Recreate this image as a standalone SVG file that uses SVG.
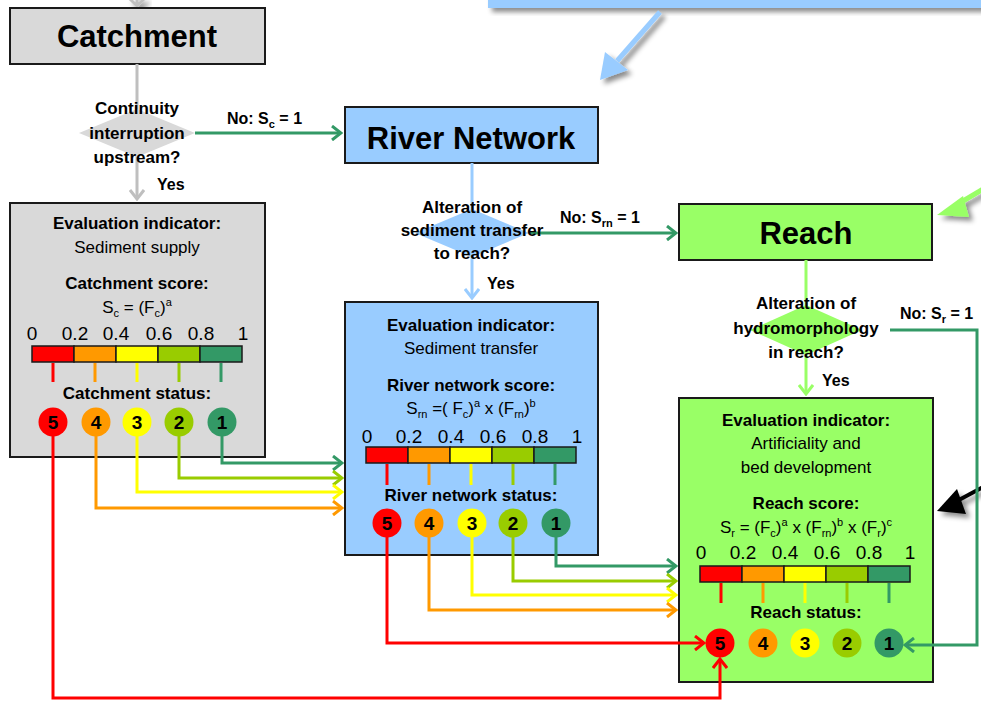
<svg xmlns="http://www.w3.org/2000/svg" width="981" height="701" viewBox="0 0 981 701">
<style>
text{font-family:"Liberation Sans",Arial,sans-serif;fill:#000}
.t{font-size:31px;font-weight:bold;text-anchor:middle}
.b{font-size:17px;font-weight:bold;text-anchor:middle}
.r{font-size:17px;text-anchor:middle}
.sc{font-size:19px;text-anchor:middle}
.s{font-size:16px;font-weight:bold}
.n{font-size:19px;font-weight:bold;text-anchor:middle}
.box{stroke:#1a1a1a;stroke-width:2}
.gray{fill:#d9d9d9}.blue{fill:#99ccff}.lg{fill:#99ff66}
.c{fill:none;stroke-width:3}
.tk{stroke-width:3}
.bar{stroke:#1a1a1a;stroke-width:1.5}
</style>
<defs>
<filter id="sh" x="-20%" y="-20%" width="160%" height="160%"><feDropShadow dx="4" dy="4" stdDeviation="2.5" flood-color="#000" flood-opacity="0.45"/></filter>
<marker id="mg" viewBox="0 0 12 16" refX="10" refY="8" markerWidth="12" markerHeight="16" markerUnits="userSpaceOnUse" orient="auto"><path d="M1,1 L10,8 L1,15" fill="none" stroke="#bfbfbf" stroke-width="3"/></marker>
<marker id="mb" viewBox="0 0 12 16" refX="10" refY="8" markerWidth="12" markerHeight="16" markerUnits="userSpaceOnUse" orient="auto"><path d="M1,1 L10,8 L1,15" fill="none" stroke="#99ccff" stroke-width="3"/></marker>
<marker id="ml" viewBox="0 0 12 16" refX="10" refY="8" markerWidth="12" markerHeight="16" markerUnits="userSpaceOnUse" orient="auto"><path d="M1,1 L10,8 L1,15" fill="none" stroke="#99ff66" stroke-width="3"/></marker>
<marker id="md" viewBox="0 0 12 16" refX="10" refY="8" markerWidth="12" markerHeight="16" markerUnits="userSpaceOnUse" orient="auto"><path d="M1,1 L10,8 L1,15" fill="none" stroke="#339966" stroke-width="3"/></marker>
<marker id="my" viewBox="0 0 12 16" refX="10" refY="8" markerWidth="12" markerHeight="16" markerUnits="userSpaceOnUse" orient="auto"><path d="M1,1 L10,8 L1,15" fill="none" stroke="#99cc00" stroke-width="3"/></marker>
<marker id="mw" viewBox="0 0 12 16" refX="10" refY="8" markerWidth="12" markerHeight="16" markerUnits="userSpaceOnUse" orient="auto"><path d="M1,1 L10,8 L1,15" fill="none" stroke="#ffff00" stroke-width="3"/></marker>
<marker id="mo" viewBox="0 0 12 16" refX="10" refY="8" markerWidth="12" markerHeight="16" markerUnits="userSpaceOnUse" orient="auto"><path d="M1,1 L10,8 L1,15" fill="none" stroke="#ff9900" stroke-width="3"/></marker>
<marker id="mr" viewBox="0 0 12 16" refX="10" refY="8" markerWidth="12" markerHeight="16" markerUnits="userSpaceOnUse" orient="auto"><path d="M1,1 L10,8 L1,15" fill="none" stroke="#ff0000" stroke-width="3"/></marker>
</defs>
<rect width="981" height="701" fill="#fff"/>

<!-- off-page context: top blue box and pointer arrows -->
<g id="context">
<rect x="488" y="-10" width="500" height="18" class="blue" filter="url(#sh)"/>
<g filter="url(#sh)">
<line x1="660" y1="12" x2="617" y2="61" stroke="#99ccff" stroke-width="5"/>
<polygon points="600,80 605,52 628,70" fill="#99ccff"/>
</g>
<g filter="url(#sh)">
<line x1="985" y1="188" x2="958" y2="204" stroke="#99ff66" stroke-width="5"/>
<polygon points="937,215 963,196 969,217" fill="#99ff66"/>
</g>
<g filter="url(#sh)">
<line x1="985" y1="486" x2="957" y2="501" stroke="#000" stroke-width="4"/>
<polygon points="937,511 957,489 966,514" fill="#000"/>
</g>
<g filter="url(#sh)">
<path d="M137,-6 V5 M129,-2 L137,6 L145,-2" fill="none" stroke="#bfbfbf" stroke-width="3"/>
</g>
</g>

<!-- title nodes -->
<g id="catchment">
<rect x="10" y="8" width="255" height="56" class="box gray"/>
<text x="137" y="47" class="t">Catchment</text>
</g>
<g id="river-network">
<rect x="345" y="107" width="253" height="56" class="box blue"/>
<text x="471" y="149" class="t">River Network</text>
</g>
<g id="reach">
<rect x="679" y="204" width="253" height="56" class="box lg"/>
<text x="806" y="244" class="t">Reach</text>
</g>

<!-- evaluation nodes -->
<g id="catchment-eval">
<rect x="10" y="203" width="255" height="254" class="box gray"/>
<text x="137" y="229" class="b">Evaluation indicator:</text>
<text x="137" y="253" class="r">Sediment supply</text>
<text x="137" y="289" class="b">Catchment score:</text>
<text x="137" y="313" class="r">S<tspan font-size="11" dy="4">c</tspan><tspan dy="-4"> = (F</tspan><tspan font-size="11" dy="4">c</tspan><tspan dy="-4">)</tspan><tspan font-size="11" dy="-7">a</tspan></text>
<g class="sc"><text x="32" y="340">0</text><text x="75" y="340">0.2</text><text x="116" y="340">0.4</text><text x="159" y="340">0.6</text><text x="201" y="340">0.8</text><text x="243" y="340">1</text></g>
<rect x="32" y="346" width="42" height="16" fill="#ff0000" class="bar"/>
<rect x="74" y="346" width="42" height="16" fill="#ff9900" class="bar"/>
<rect x="116" y="346" width="42" height="16" fill="#ffff00" class="bar"/>
<rect x="158" y="346" width="42" height="16" fill="#99cc00" class="bar"/>
<rect x="200" y="346" width="42" height="16" fill="#339966" class="bar"/>
<line x1="53" y1="363" x2="53" y2="382" stroke="#ff0000" class="tk"/>
<line x1="95" y1="363" x2="95" y2="382" stroke="#ff9900" class="tk"/>
<line x1="137" y1="363" x2="137" y2="382" stroke="#ffff00" class="tk"/>
<line x1="179" y1="363" x2="179" y2="382" stroke="#99cc00" class="tk"/>
<line x1="221" y1="363" x2="221" y2="382" stroke="#339966" class="tk"/>
<text x="137" y="399" class="b">Catchment status:</text>
<circle cx="53" cy="422" r="14.5" fill="#ff0000"/><text x="53" y="429" class="n">5</text>
<circle cx="96" cy="422" r="14.5" fill="#ff9900"/><text x="96" y="429" class="n">4</text>
<circle cx="137" cy="422" r="14.5" fill="#ffff00"/><text x="137" y="429" class="n">3</text>
<circle cx="179" cy="422" r="14.5" fill="#99cc00"/><text x="179" y="429" class="n">2</text>
<circle cx="222" cy="422" r="14.5" fill="#339966"/><text x="222" y="429" class="n">1</text>
</g>

<g id="river-network-eval">
<rect x="345" y="302" width="253" height="253" class="box blue"/>
<text x="471" y="331" class="b">Evaluation indicator:</text>
<text x="471" y="354" class="r">Sediment transfer</text>
<text x="471" y="391" class="b">River network score:</text>
<text x="471" y="414" class="r">S<tspan font-size="11" dy="4">rn</tspan><tspan dy="-4"> =( F</tspan><tspan font-size="11" dy="4">c</tspan><tspan dy="-4">)</tspan><tspan font-size="11" dy="-7">a</tspan><tspan dy="7"> x (F</tspan><tspan font-size="11" dy="4">rn</tspan><tspan dy="-4">)</tspan><tspan font-size="11" dy="-7">b</tspan></text>
<g class="sc"><text x="367" y="443">0</text><text x="409" y="443">0.2</text><text x="451" y="443">0.4</text><text x="493" y="443">0.6</text><text x="535" y="443">0.8</text><text x="577" y="443">1</text></g>
<rect x="366" y="447" width="42" height="16" fill="#ff0000" class="bar"/>
<rect x="408" y="447" width="42" height="16" fill="#ff9900" class="bar"/>
<rect x="450" y="447" width="42" height="16" fill="#ffff00" class="bar"/>
<rect x="492" y="447" width="42" height="16" fill="#99cc00" class="bar"/>
<rect x="534" y="447" width="42" height="16" fill="#339966" class="bar"/>
<line x1="387" y1="464" x2="387" y2="485" stroke="#ff0000" class="tk"/>
<line x1="429" y1="464" x2="429" y2="485" stroke="#ff9900" class="tk"/>
<line x1="471" y1="464" x2="471" y2="485" stroke="#ffff00" class="tk"/>
<line x1="513" y1="464" x2="513" y2="485" stroke="#99cc00" class="tk"/>
<line x1="555" y1="464" x2="555" y2="485" stroke="#339966" class="tk"/>
<text x="471" y="501" class="b">River network status:</text>
<circle cx="387" cy="523" r="14.5" fill="#ff0000"/><text x="387" y="530" class="n">5</text>
<circle cx="429" cy="523" r="14.5" fill="#ff9900"/><text x="429" y="530" class="n">4</text>
<circle cx="472" cy="523" r="14.5" fill="#ffff00"/><text x="472" y="530" class="n">3</text>
<circle cx="513" cy="523" r="14.5" fill="#99cc00"/><text x="513" y="530" class="n">2</text>
<circle cx="556" cy="523" r="14.5" fill="#339966"/><text x="556" y="530" class="n">1</text>
</g>

<g id="reach-eval">
<rect x="679" y="398" width="254" height="284" class="box lg"/>
<text x="806" y="426" class="b">Evaluation indicator:</text>
<text x="806" y="449" class="r">Artificiality and</text>
<text x="806" y="473" class="r">bed development</text>
<text x="806" y="509" class="b">Reach score:</text>
<text x="806" y="533" class="r">S<tspan font-size="11" dy="4">r</tspan><tspan dy="-4"> = (F</tspan><tspan font-size="11" dy="4">c</tspan><tspan dy="-4">)</tspan><tspan font-size="11" dy="-7">a</tspan><tspan dy="7"> x (F</tspan><tspan font-size="11" dy="4">rn</tspan><tspan dy="-4">)</tspan><tspan font-size="11" dy="-7">b</tspan><tspan dy="7"> x (F</tspan><tspan font-size="11" dy="4">r</tspan><tspan dy="-4">)</tspan><tspan font-size="11" dy="-7">c</tspan></text>
<g class="sc"><text x="701" y="559">0</text><text x="743" y="559">0.2</text><text x="785" y="559">0.4</text><text x="827" y="559">0.6</text><text x="869" y="559">0.8</text><text x="910" y="559">1</text></g>
<rect x="700" y="566" width="42" height="16" fill="#ff0000" class="bar"/>
<rect x="742" y="566" width="42" height="16" fill="#ff9900" class="bar"/>
<rect x="784" y="566" width="42" height="16" fill="#ffff00" class="bar"/>
<rect x="826" y="566" width="42" height="16" fill="#99cc00" class="bar"/>
<rect x="868" y="566" width="42" height="16" fill="#339966" class="bar"/>
<line x1="721" y1="583" x2="721" y2="603" stroke="#ff0000" class="tk"/>
<line x1="763" y1="583" x2="763" y2="603" stroke="#ff9900" class="tk"/>
<line x1="805" y1="583" x2="805" y2="603" stroke="#ffff00" class="tk"/>
<line x1="847" y1="583" x2="847" y2="603" stroke="#99cc00" class="tk"/>
<line x1="889" y1="583" x2="889" y2="603" stroke="#339966" class="tk"/>
<text x="806" y="618" class="b">Reach status:</text>
<circle cx="720" cy="643" r="14.5" fill="#ff0000"/><text x="720" y="650" class="n">5</text>
<circle cx="763" cy="643" r="14.5" fill="#ff9900"/><text x="763" y="650" class="n">4</text>
<circle cx="805" cy="643" r="14.5" fill="#ffff00"/><text x="805" y="650" class="n">3</text>
<circle cx="847" cy="643" r="14.5" fill="#99cc00"/><text x="847" y="650" class="n">2</text>
<circle cx="889" cy="643" r="14.5" fill="#339966"/><text x="889" y="650" class="n">1</text>
</g>

<!-- connectors -->
<g id="connectors">
<path d="M137,64 V199" class="c" stroke="#bfbfbf" marker-end="url(#mg)"/>
<path d="M472,163 V298" class="c" stroke="#99ccff" marker-end="url(#mb)"/>
<path d="M806,260 V394" class="c" stroke="#99ff66" marker-end="url(#ml)"/>
<path d="M195,133 H341" class="c" stroke="#339966" marker-end="url(#md)"/>
<path d="M530,233 H676" class="c" stroke="#339966" marker-end="url(#md)"/>
<path d="M890,330 H977 V645 H905" class="c" stroke="#339966" marker-end="url(#md)"/>
<path d="M222,436 V463 H342" class="c" stroke="#339966" marker-end="url(#md)"/>
<path d="M179,436 V478 H342" class="c" stroke="#99cc00" marker-end="url(#my)"/>
<path d="M137,436 V492 H342" class="c" stroke="#ffff00" marker-end="url(#mw)"/>
<path d="M96,436 V508 H342" class="c" stroke="#ff9900" marker-end="url(#mo)"/>
<path d="M53,436 V698 H720 V659" class="c" stroke="#ff0000" marker-end="url(#mr)"/>
<path d="M556,537 V566 H676" class="c" stroke="#339966" marker-end="url(#md)"/>
<path d="M513,537 V581 H676" class="c" stroke="#99cc00" marker-end="url(#my)"/>
<path d="M472,537 V595 H676" class="c" stroke="#ffff00" marker-end="url(#mw)"/>
<path d="M429,537 V610 H676" class="c" stroke="#ff9900" marker-end="url(#mo)"/>
<path d="M387,537 V643 H704" class="c" stroke="#ff0000" marker-end="url(#mr)"/>
</g>

<!-- decisions -->
<g id="decision-catchment">
<polygon points="137,109 195,133 137,157 79,133" class="gray"/>
<text x="137" y="114" class="b">Continuity</text>
<text x="137" y="139" class="b">interruption</text>
<text x="137" y="163" class="b">upstream?</text>
</g>
<g id="decision-river-network">
<polygon points="472,209 529,233 472,257 415,233" class="blue"/>
<text x="472" y="213" class="b">Alteration of</text>
<text x="472" y="236" class="b">sediment transfer</text>
<text x="472" y="259" class="b">to reach?</text>
</g>
<g id="decision-reach">
<polygon points="806,305 862,330 806,355 750,330" class="lg"/>
<text x="806" y="309" class="b">Alteration of</text>
<text x="806" y="334" class="b">hydromorphology</text>
<text x="806" y="358" class="b">in reach?</text>
</g>

<!-- connector labels -->
<g id="labels">
<text x="227" y="124" class="s">No: S<tspan font-size="11" dy="4">c</tspan><tspan dy="-4"> = 1</tspan></text>
<text x="157" y="190" class="s">Yes</text>
<text x="560" y="223" class="s">No: S<tspan font-size="11" dy="4">rn</tspan><tspan dy="-4"> = 1</tspan></text>
<text x="487" y="289" class="s">Yes</text>
<text x="900" y="319" class="s">No: S<tspan font-size="11" dy="4">r</tspan><tspan dy="-4"> = 1</tspan></text>
<text x="822" y="386" class="s">Yes</text>
</g>
</svg>
